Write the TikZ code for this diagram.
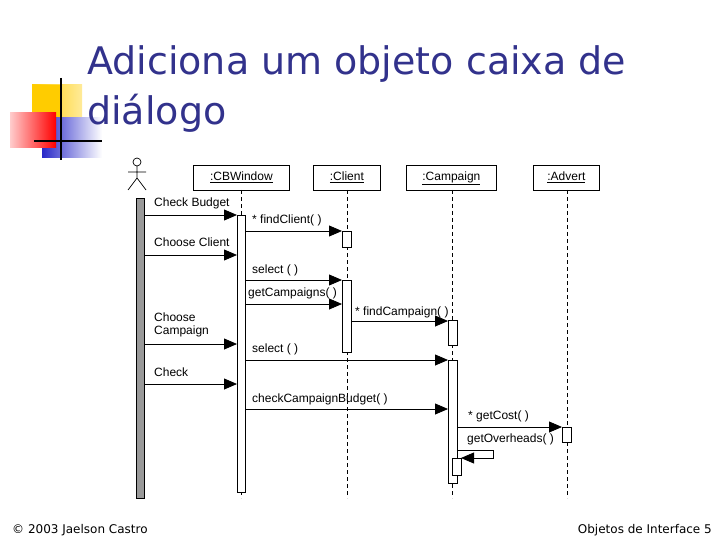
\documentclass[tikz,border=0pt]{standalone}
\usepackage{fontspec}
\setmainfont{Liberation Sans}
\newfontfamily\titlefont{DejaVu Sans}
\usetikzlibrary{arrows.meta}
\definecolor{ttl}{RGB}{50,50,140}
\definecolor{gold}{RGB}{255,204,0}
\definecolor{lblue}{RGB}{40,40,200}
\tikzset{
  obj/.style={draw,line width=0.8pt,inner sep=0pt,anchor=north west},
  olbl/.style={font=\fontsize{12}{13}\selectfont,inner sep=0pt,text height=9pt,text depth=4pt},
  life/.style={dashed,dash pattern=on 4pt off 3pt,line width=0.9pt},
  act/.style={draw,fill=white,line width=0.8pt},
  msg/.style={line width=0.8pt,-{Triangle[width=11pt,length=13pt]}},
  lbl/.style={font=\fontsize{12}{13}\selectfont,anchor=base west,inner sep=0pt},
}
\begin{document}
\begin{tikzpicture}[x=1pt,y=-1pt]
\useasboundingbox (0,0) rectangle (720,540);
% logo
\shade[left color=gold,right color=gold!40] (32,85) rectangle (82,118);
\fill[gold] (32,85) rectangle (60,118);
\shade[left color=lblue,right color=white] (42,118) rectangle (102,158);
\shade[left color=red!20,right color=red] (10,113) rectangle (56,148);
\draw[line width=2pt] (61,78) -- (61,160);
\draw[line width=2pt] (34,141) -- (102,141);
% title
\node[anchor=base west,inner sep=0pt,text=ttl,font=\titlefont\fontsize{38}{44}\selectfont] (t1) at (87,75) {Adiciona um objeto caixa de};
\node[anchor=base west,inner sep=0pt,text=ttl,font=\titlefont\fontsize{38}{44}\selectfont] (t2) at (87,125) {diálogo};
% actor
\draw[line width=0.7pt] (137,162) circle (4);
\draw[line width=0.7pt] (137,166) -- (137,178) (128,172) -- (146,172) (137,178) -- (128,190) (137,178) -- (146,190);
\fill[gray!80] (136,198) rectangle (144,498);
\draw (136,198) rectangle (144,498);
% objects
\node[obj,minimum width=96pt,minimum height=25pt] (w) at (193,165) {};
\node[olbl] at (w.center) {\underline{:CBWindow}};
\node[obj,minimum width=67pt,minimum height=25pt] (c) at (313,165) {};
\node[olbl] at (c.center) {\underline{:Client}};
\node[obj,minimum width=90pt,minimum height=25pt] (p) at (406,165) {};
\node[olbl] at (p.center) {\underline{:Campaign}};
\node[obj,minimum width=66pt,minimum height=25pt] (a) at (533,165) {};
\node[olbl] at (a.center) {\underline{:Advert}};
% lifelines
\draw[life] (241,190) -- (241,498);
\draw[life] (347,190) -- (347,498);
\draw[life,line width=0.6pt] (452,190) -- (452,498);
\draw[life] (567,190) -- (567,498);
% activations
\draw[act] (237,215) rectangle (245,492);
\draw[act] (342,231) rectangle (351,247);
\draw[act] (342,280) rectangle (351,352);
\draw[act] (448,320) rectangle (457,345);
\draw[act] (448,360) rectangle (457,483);
\draw[act] (452,458) rectangle (461,475);
\draw[act] (562,427) rectangle (571,442);
% messages
\draw[msg] (144,215) -- (237,215);
\node[lbl] at (154,207) {Check Budget};
\draw[msg] (245,231) -- (342,231);
\node[lbl] at (252,223) {* findClient( )};
\draw[msg] (144,255) -- (237,255);
\node[lbl] at (154,247) {Choose Client};
\draw[msg] (245,280) -- (342,280);
\node[lbl] at (252,273) {select ( )};
\draw[msg] (245,304) -- (342,304);
\node[lbl] at (248,296) {getCampaigns( )};
\draw[msg] (351,321) -- (448,321);
\node[lbl] at (355,315) {* findCampaign( )};
\draw[msg] (144,344) -- (237,344);
\node[lbl] at (154,321) {Choose};
\node[lbl] at (154,334) {Campaign};
\draw[msg] (245,360) -- (448,360);
\node[lbl] at (252,352) {select ( )};
\draw[msg] (144,384) -- (237,384);
\node[lbl] at (154,376) {Check};
\draw[msg] (245,409) -- (448,409);
\node[lbl] at (252,402) {checkCampaignBudget( )};
\draw[msg] (457,427) -- (562,427);
\node[lbl] at (468,419) {* getCost( )};
\node[lbl] at (467,442) {getOverheads( )};
\draw[msg] (457,450) -- (493,450) -- (493,458) -- (461,458);
% footer
\node[anchor=base west,inner sep=0pt,font=\titlefont\fontsize{12}{14}\selectfont] (f1) at (12,533) {© 2003 Jaelson Castro};
\node[anchor=base east,inner sep=0pt,font=\titlefont\fontsize{12}{14}\selectfont] (f2) at (712,533) {Objetos de Interface 5};
\end{tikzpicture}
\end{document}
